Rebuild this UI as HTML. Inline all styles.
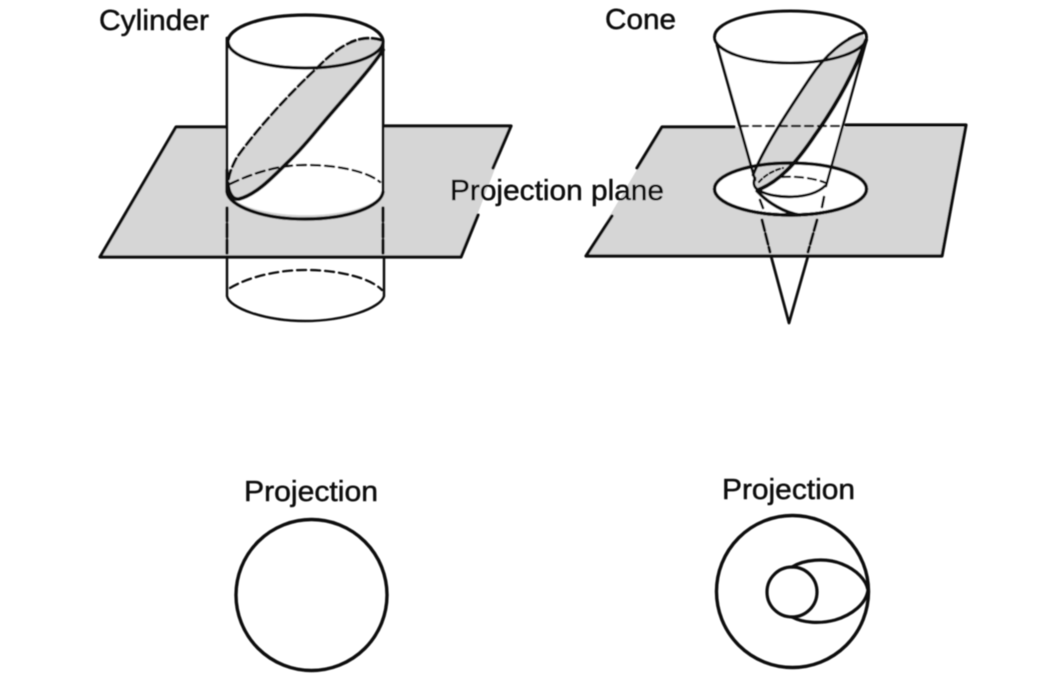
<!DOCTYPE html>
<html><head><meta charset="utf-8">
<style>html,body{margin:0;padding:0;background:#fff}svg{display:block}text{font-family:"Liberation Sans",sans-serif;fill:#111;font-size:29px;stroke:#111;stroke-width:.5px}</style>
</head><body>
<svg width="1038" height="688" viewBox="0 0 1038 688" xmlns="http://www.w3.org/2000/svg">
<defs><filter id="b" filterUnits="userSpaceOnUse" x="0" y="0" width="1038" height="688"><feGaussianBlur stdDeviation="0.45"/></filter></defs>
<g fill="none" stroke="#111" stroke-linejoin="round" stroke-linecap="round" filter="url(#b)">

<!-- left plane -->
<path d="M176 127H511L461 257H100Z" fill="#d6d6d6" stroke="none"/>
<path d="M227 127H176L100 257H461L478 215M493 168L511 126H385" stroke-width="3.200"/>
<!-- cylinder white body above plane -->
<path d="M228 41V192A78 26 0 0 0 383 192V41Z" fill="#fff" stroke="none"/>
<!-- gray slice -->
<path d="M381 40C360 34 340 44 317 68C295 88 260 125 237 157C231 168 228 177 228 185C229 194 233 200 239 199C255 195 270 180 287 163C305 146 315 132 323 123C345 97 370 70 383 50Z" fill="#d6d6d6" stroke="none"/>
<!-- top ellipse -->
<ellipse cx="305.500" cy="41.500" rx="77.500" ry="26.500" stroke-width="3.200"/>
<path d="M227 38V192M383 42V192" stroke-width="2.800"/>
<path d="M227 170V192C229 206 262 219 305 219C350 219 381 206 383 192" stroke-width="3.400"/>
<!-- slice edges -->
<path d="M383 50C370 70 345 97 323 123C315 132 305 146 287 163C270 180 255 195 239 199C233 200 229 194 228 185" stroke-width="3.800"/>
<path d="M381 40C360 34 340 44 317 68C295 88 260 125 237 157C231 168 228 177 228 185" stroke-width="3" stroke-dasharray="9 4"/>
<!-- dashed base -->
<path d="M230 184C255 172 280 165 305 165C340 165 368 172 380 182" stroke-width="2.400" stroke-dasharray="9 5"/>
<path d="M227 208V256M383 208V256" stroke-width="3.200" stroke-dasharray="13 3"/>
<path d="M227 257V296C229 308 265 321 305 321C345 321 381 308 384 296V257" stroke-width="2.500"/>
<path d="M230 288C250 276 280 270 305 270C340 270 370 278 382 290" stroke-width="2.300" stroke-dasharray="9 5"/>

<!-- right plane -->
<path d="M662 127H966L942 256H586Z" fill="#d6d6d6" stroke="none"/>
<path d="M734 127H662L637 168M612 216L586 256H942L966 125H846" stroke-width="3.200"/>
<!-- white ellipse on plane -->
<ellipse cx="790.500" cy="189" rx="76" ry="26" fill="#fff" stroke-width="3.400"/>
<!-- cone white body -->
<path d="M716 38L757 188C770 199 815 199 826 185L866 38Z" fill="#fff" stroke="none"/>
<!-- gray slice -->
<path d="M863 33C845 38 825 55 810 78C790 108 765 145 753 175L757 190C775 185 795 165 815 135C840 100 855 70 865 42Z" fill="#d6d6d6" stroke="none"/>
<ellipse cx="790.500" cy="37" rx="76" ry="26" stroke-width="3"/>
<path d="M717 45L755 180" stroke-width="2.800"/>
<path d="M866 42L826 186" stroke-width="2.600"/>
<path d="M740 126H842" stroke-width="2.300" stroke-dasharray="8 5"/>
<path d="M863 33C845 38 825 55 810 78C790 108 765 145 753 175" stroke-width="3"/>
<path d="M866 40C855 70 840 100 815 135C795 165 778 182 758 190" stroke-width="4"/>
<ellipse cx="790.500" cy="189" rx="76" ry="26" stroke-width="3.400"/>
<path d="M755 178C752 184 755 189 760 191C775 199 810 200 825 186" stroke-width="2.800"/>
<path d="M757 191C768 203 785 213 800 215" stroke-width="3.400"/>
<path d="M782 177C795 176 815 178 826 183" stroke-width="2.300" stroke-dasharray="8 5"/>
<path d="M759 182C766 174 775 170 783 168" stroke-width="2.200" stroke-dasharray="4 3"/>
<path d="M760 200L763 208M824 197L822 207" stroke-width="2.600"/>
<path d="M762 220L770 252M817 220L808 252" stroke-width="3" stroke-dasharray="11 3"/>
<path d="M771 256L789 323L808 256" stroke-width="2.800"/>

<!-- projections -->
<circle cx="311.500" cy="595" r="75.500" stroke-width="3.400"/>
<circle cx="792.500" cy="591.500" r="76" stroke-width="3.400"/>
<circle cx="792" cy="592" r="25" stroke-width="3.200"/>
<path d="M792 567C803 560 825 557 842 564C857 570 866 580 868 590C866 604 852 615 835 620C820 624 803 623 792 617" stroke-width="3.200"/>

<g>
<text x="99" y="30" textLength="110" lengthAdjust="spacingAndGlyphs">Cylinder</text>
<text x="605" y="29" textLength="71" lengthAdjust="spacingAndGlyphs">Cone</text>
<text x="450" y="200" textLength="214" lengthAdjust="spacingAndGlyphs">Projection plane</text>
<text x="244" y="501" textLength="134" lengthAdjust="spacingAndGlyphs">Projection</text>
<text x="722" y="499" textLength="133" lengthAdjust="spacingAndGlyphs">Projection</text>
</g>
</g>
</svg>
</body></html>
